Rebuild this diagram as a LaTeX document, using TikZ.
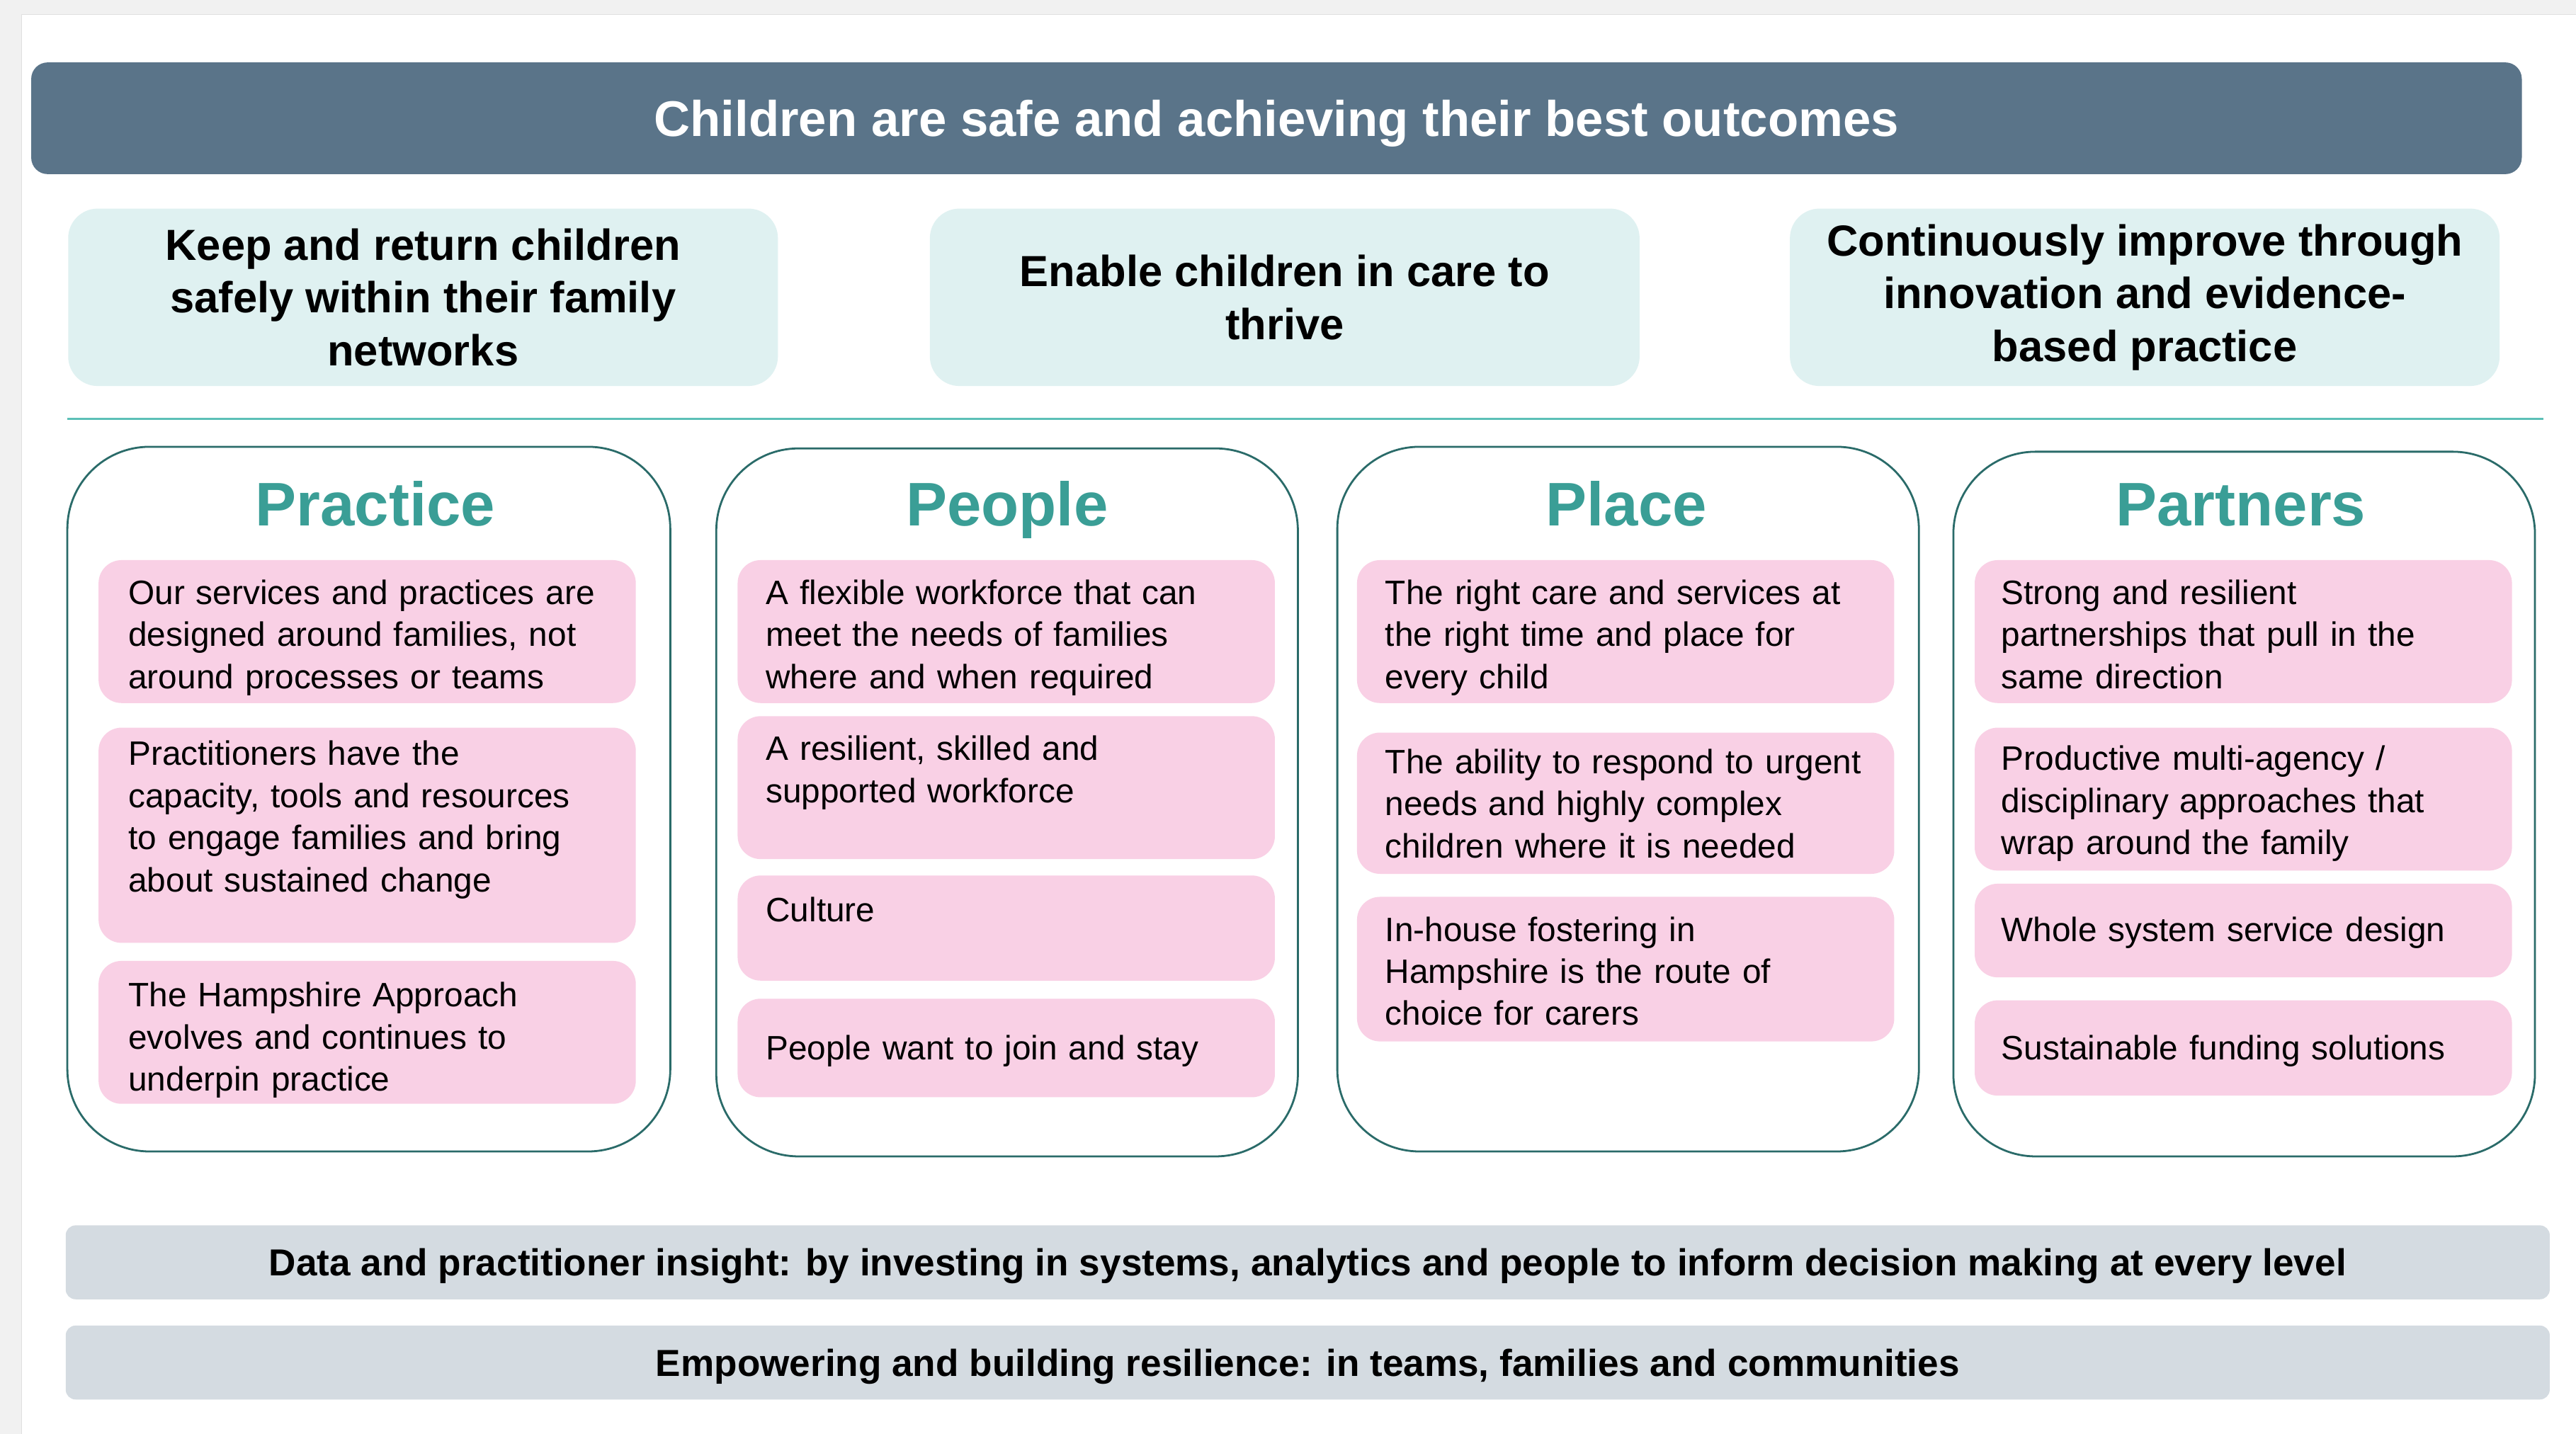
\documentclass[tikz,border=0pt]{standalone}
\usepackage{fontspec}
\setmainfont{Liberation Sans}
\usepackage{xcolor}
\usepackage{tikz}

\definecolor{pagegrey}{HTML}{F1F1F1}
\definecolor{slate}{HTML}{5A7489}
\definecolor{mint}{HTML}{DFF1F1}
\definecolor{sealine}{HTML}{5CC0B7}
\definecolor{deepteal}{HTML}{2A6B69}
\definecolor{titleteal}{HTML}{3A9E96}
\definecolor{blush}{HTML}{F9D0E5}
\definecolor{mist}{HTML}{D4DBE1}

\begin{document}
\begin{tikzpicture}[x=1pt,y=-1pt,
  goal/.style={fill=slate, rounded corners=10, text=white, minimum width=1516, minimum height=68,
    text height=28pt, text depth=6.4pt, font=\bfseries\fontsize{30.5}{36}\selectfont},
  outcome/.style={fill=mint, rounded corners=18, align=center, minimum width=432, minimum height=108,
    font=\bfseries\fontsize{26.5}{32.2}\selectfont},
  pillar/.style={draw=deepteal, line width=1.2pt, rounded corners=50},
  pillartitle/.style={anchor=base, text=titleteal, font=\bfseries\fontsize{37.5}{45}\selectfont},
  aim/.style={fill=blush, rounded corners=14},
  aimtext/.style={anchor=base west, inner sep=0pt, text width=330, align=left,
    font=\fontsize{20.6}{25.6}\selectfont},
  enabler/.style={fill=mist, rounded corners=6, minimum width=1512, minimum height=45,
    text height=21.5pt, text depth=4.8pt, font=\bfseries\fontsize{22.9}{27}\selectfont}]
\useasboundingbox (0,0) rectangle (1568,873);
\fill [pagegrey] (0,0) rectangle (1568,873);
\fill [white] (13,9) rectangle (1568,873);
\draw [black!12] (13,873) -- (13,9) -- (1568,9);

\node [goal] (goal) at (777,72) {Children are safe and achieving their best outcomes};

\node [outcome] (keep) at (257.5,181) {Keep and return children\\safely within their family\\networks};
\node [outcome] (thrive) at (782,181) {Enable children in care to\\thrive};
\node [outcome] (improve) at (1305.5,181) {Continuously improve through\\innovation and evidence-\\based practice};

\draw [sealine, line width=1.5pt] (41,255) -- (1548,255);

% four pillars
\draw [pillar] (41,272) rectangle (408,701);
\draw [pillar] (436,273) rectangle (790,704);
\draw [pillar] (814,272) rectangle (1168,701);
\draw [pillar] (1189,275) rectangle (1543,704);
\node [pillartitle] (practice) at (228.5,320) {Practice};
\node [pillartitle] (people) at (613,320) {People};
\node [pillartitle] (place) at (990,320) {Place};
\node [pillartitle] (partners) at (1364,320) {Partners};

\fill [aim] (60,341) rectangle (387,428);
\fill [aim] (60,443) rectangle (387,574);
\fill [aim] (60,585) rectangle (387,672);
\node [aimtext] (pr1) at (78,368) {Our services and practices are\\designed around families, not\\around processes or teams};
\node [aimtext] (pr2) at (78,466) {Practitioners have the\\capacity, tools and resources\\to engage families and bring\\about sustained change};
\node [aimtext] (pr3) at (78,613) {The Hampshire Approach\\evolves and continues to\\underpin practice};

\fill [aim] (449,341) rectangle (776,428);
\fill [aim] (449,436) rectangle (776,523);
\fill [aim] (449,533) rectangle (776,597);
\fill [aim] (449,608) rectangle (776,668);
\node [aimtext] (pe1) at (466,368) {A flexible workforce that can\\meet the needs of families\\where and when required};
\node [aimtext] (pe2) at (466,463) {A resilient, skilled and\\supported workforce};
\node [aimtext] (pe3) at (466,561) {Culture};
\node [aimtext] (pe4) at (466,645) {People want to join and stay};

\fill [aim] (826,341) rectangle (1153,428);
\fill [aim] (826,446) rectangle (1153,532);
\fill [aim] (826,546) rectangle (1153,634);
\node [aimtext] (pl1) at (843,368) {The right care and services at\\the right time and place for\\every child};
\node [aimtext] (pl2) at (843,471) {The ability to respond to urgent\\needs and highly complex\\children where it is needed};
\node [aimtext] (pl3) at (843,573) {In-house fostering in\\Hampshire is the route of\\choice for carers};

\fill [aim] (1202,341) rectangle (1529,428);
\fill [aim] (1202,443) rectangle (1529,530);
\fill [aim] (1202,538) rectangle (1529,595);
\fill [aim] (1202,609) rectangle (1529,667);
\node [aimtext] (pa1) at (1218,368) {Strong and resilient\\partnerships that pull in the\\same direction};
\node [aimtext] (pa2) at (1218,469) {Productive multi-agency /\\disciplinary approaches that\\wrap around the family};
\node [aimtext] (pa3) at (1218,573) {Whole system service design};
\node [aimtext] (pa4) at (1218,645) {Sustainable funding solutions};

\node [enabler] (insight) at (796,768.5) {Data and practitioner insight: by investing in systems, analytics and people to inform decision making at every level};
\node [enabler] (empower) at (796,829.5) {Empowering and building resilience: in teams, families and communities};
\end{tikzpicture}
\end{document}
